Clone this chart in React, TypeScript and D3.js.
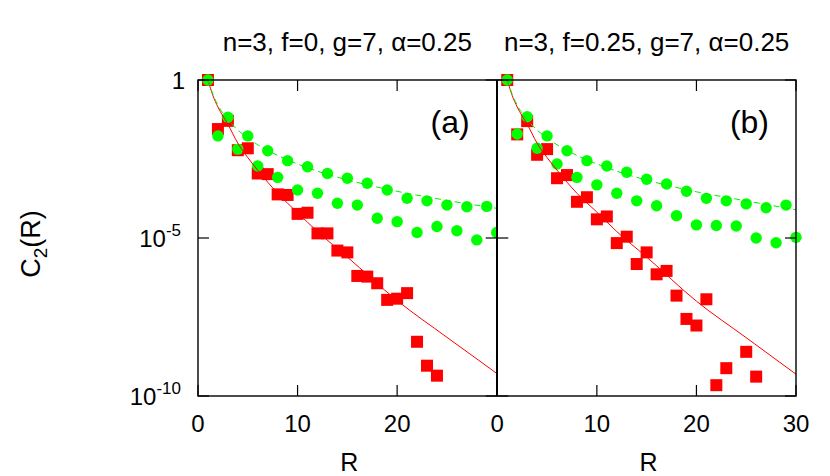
import React from "react";
import * as d3 from "d3";

// ---- data ----
const titles = ["n=3, f=0, g=7, \u03b1=0.25", "n=3, f=0.25, g=7, \u03b1=0.25"];
const panelTags = ["(a)", "(b)"];

const circleR = [1,2,3,4,5,6,7,8,9,10,11,12,13,14,15,16,17,18,19,20,21,22,23,24,25,26,27,28,29,30];
const circlesA = [1,1.7e-2,6.6e-2,6.5e-3,1.7e-2,1.9e-3,5.8e-3,8.3e-4,2.8e-3,3.3e-4,1.8e-3,2.6e-4,1.1e-3,1.26e-4,7.8e-4,1.1e-4,5.4e-4,4.2e-5,3.3e-4,3.3e-5,1.8e-4,1.5e-5,1.5e-4,2.3e-5,1.1e-4,1.7e-5,9.8e-5,8.7e-6,1.0e-4,1.5e-5];
const circlesB = [1,1.95e-2,6.9e-2,6.9e-3,1.7e-2,2.2e-3,5.8e-3,8.3e-4,2.8e-3,4.8e-4,1.9e-3,2.6e-4,1.2e-3,1.5e-4,7.2e-4,1.05e-4,5.1e-4,5.1e-5,3.0e-4,2.6e-5,1.8e-4,2.5e-5,1.5e-4,2.4e-5,1.2e-4,1.0e-5,9.1e-5,7.1e-6,1.1e-4,1.05e-5];

const squareRA = [1,2,3,4,5,6,7,8,9,10,11,12,13,14,15,16,17,18,19,20,21,22,23,24];
const squaresA = [1,2.8e-2,5.1e-2,6.0e-3,6.9e-3,1.1e-3,1.05e-3,2.4e-4,2.3e-4,5.8e-5,6.3e-5,1.4e-5,1.4e-5,4.0e-6,3.5e-6,6.3e-7,6.0e-7,3.7e-7,1.1e-7,1.2e-7,1.8e-7,5.2e-9,9.1e-10,4.4e-10];
const squareRB = [1,2,3,4,5,6,7,8,9,10,11,12,13,14,15,16,17,18,19,20,21,22,23,25,26];
const squaresB = [1,1.9e-2,5.0e-2,4.3e-3,6.5e-3,7.8e-4,9.8e-4,1.4e-4,1.95e-4,3.9e-5,4.8e-5,6.9e-6,1.1e-5,1.5e-6,3.5e-6,7.1e-7,9.1e-7,1.5e-7,2.75e-8,1.7e-8,1.15e-7,2.2e-10,7.6e-10,2.5e-9,4.1e-10];

const fitR = [1,1.5,2,3,4,5,6,8,10,12,15,20,25,30];
const redFitA = [1,3.2e-1,1.4e-1,4.0e-2,1.0e-2,3.5e-3,1.4e-3,2.6e-4,6.3e-5,1.6e-5,2.5e-6,1.05e-7,7.2e-9,5.2e-10];
const redFitB = [1,3.2e-1,1.4e-1,4.0e-2,1.0e-2,3.5e-3,1.4e-3,2.6e-4,6.6e-5,1.6e-5,2.5e-6,1.0e-7,7.0e-9,4.9e-10];
const greenFitA = [1,3.5e-1,1.6e-1,5.6e-2,2.6e-2,1.45e-2,8.9e-3,4.1e-3,2.2e-3,1.3e-3,6.9e-4,3.0e-4,1.55e-4,8.7e-5];
const greenFitB = [1,3.5e-1,1.6e-1,5.6e-2,2.6e-2,1.45e-2,8.9e-3,4.1e-3,2.2e-3,1.3e-3,6.8e-4,2.9e-4,1.5e-4,7.8e-5];

const xTicks = [0, 10, 20, 30];
const yTicks = [1, 1e-5, 1e-10];
const xTickLabelsA = ["0", "10", "20"];
const xTickLabelsB = ["0", "10", "20", "30"];

const W = 830, H = 476;
const FONT = "'Liberation Sans', Arial, Helvetica, sans-serif";
const TOP = 80, BOTTOM = 396;
const panelLeft = [198, 497.3];
const PW = 298.7;

const yScale = d3.scaleLog().domain([1e-10, 1]).range([BOTTOM, TOP]);

function yLabel(v: number) {
  if (v === 1) return { base: "1", exp: "" };
  const e = Math.round(Math.log10(v));
  return { base: "10", exp: String(e) };
}

function Panel({ idx, circles, sqR, squares, redFit, greenFit, tickLabels }: any) {
  const x0 = panelLeft[idx];
  const xScale = d3.scaleLinear().domain([0, 30]).range([x0, x0 + PW]);
  const line = d3.line<[number, number]>()
    .x((d) => xScale(d[0]))
    .y((d) => yScale(d[1]))
    .curve(d3.curveMonotoneX);
  const redPts = fitR.map((r, i) => [r, redFit[i]] as [number, number]);
  const greenPts = fitR.map((r, i) => [r, greenFit[i]] as [number, number]);
  const sq = 12;
  const tl = 11;
  return (
    <g>
      <rect x={x0} y={TOP} width={PW} height={BOTTOM - TOP} fill="white" />
      {sqR.map((r: number, i: number) => (
        <rect key={"s" + i} x={xScale(r) - sq / 2} y={yScale(squares[i]) - sq / 2} width={sq} height={sq} fill="#ff0000" />
      ))}
      {circleR.map((r, i) => (
        <circle key={"c" + i} cx={xScale(r)} cy={yScale(circles[i])} r={5.7} fill="#00ff00" />
      ))}
      <path d={line(redPts) || ""} fill="none" stroke="#ff0000" strokeWidth={1} />
      <path d={line(greenPts) || ""} fill="none" stroke="#00ee00" strokeWidth={1} strokeDasharray="6,4" />
      {xTicks.map((t) => (
        <g key={"xt" + t}>
          <line x1={xScale(t)} x2={xScale(t)} y1={BOTTOM} y2={BOTTOM - tl} stroke="black" strokeWidth={1.2} />
          <line x1={xScale(t)} x2={xScale(t)} y1={TOP} y2={TOP + tl} stroke="black" strokeWidth={1.2} />
        </g>
      ))}
      {yTicks.map((t) => (
        <g key={"yt" + t}>
          <line x1={x0} x2={x0 + tl} y1={yScale(t)} y2={yScale(t)} stroke="black" strokeWidth={1.2} />
          <line x1={x0 + PW} x2={x0 + PW - tl} y1={yScale(t)} y2={yScale(t)} stroke="black" strokeWidth={1.2} />
        </g>
      ))}
      <rect x={x0} y={TOP} width={PW} height={BOTTOM - TOP} fill="none" stroke="black" strokeWidth={1.4} />
      {tickLabels.map((lab: string, i: number) => (
        <text key={"xl" + i} x={xScale(xTicks[i])} y={432} textAnchor="middle" fontSize={24} fontFamily={FONT}>{lab}</text>
      ))}
      <text x={xScale(15) + 2} y={471} textAnchor="middle" fontSize={25} fontFamily={FONT}>R</text>
      <text x={xScale(15)} y={51} textAnchor="middle" fontSize={26} fontFamily={FONT}>{titles[idx]}</text>
      <text x={x0 + PW - 27} y={133} textAnchor="end" fontSize={32} fontFamily={FONT}>{panelTags[idx]}</text>
    </g>
  );
}

export default function App() {
  return (
    <svg width={W} height={H} style={{ display: "block", position: "absolute", left: 0, top: 0, background: "white" }}>
      <rect width={W} height={H} fill="white" />
      <Panel idx={0} circles={circlesA} sqR={squareRA} squares={squaresA} redFit={redFitA} greenFit={greenFitA} tickLabels={xTickLabelsA} />
      <Panel idx={1} circles={circlesB} sqR={squareRB} squares={squaresB} redFit={redFitB} greenFit={greenFitB} tickLabels={xTickLabelsB} />
      {yTicks.map((t) => {
        const l = yLabel(t);
        return (
          <text key={"yl" + t} x={l.exp ? 181 : 185} y={yScale(t) + 9} textAnchor="end" fontSize={24} fontFamily={FONT}>
            {l.base}
            {l.exp && <tspan fontSize={17} dy={-11}>{l.exp}</tspan>}
          </text>
        );
      })}
      <text transform="translate(40,244) rotate(-90)" textAnchor="middle" fontSize={27} fontFamily={FONT}>
        C<tspan fontSize={19} dy={7}>2</tspan><tspan dy={-7}>(R)</tspan>
      </text>
    </svg>
  );
}
